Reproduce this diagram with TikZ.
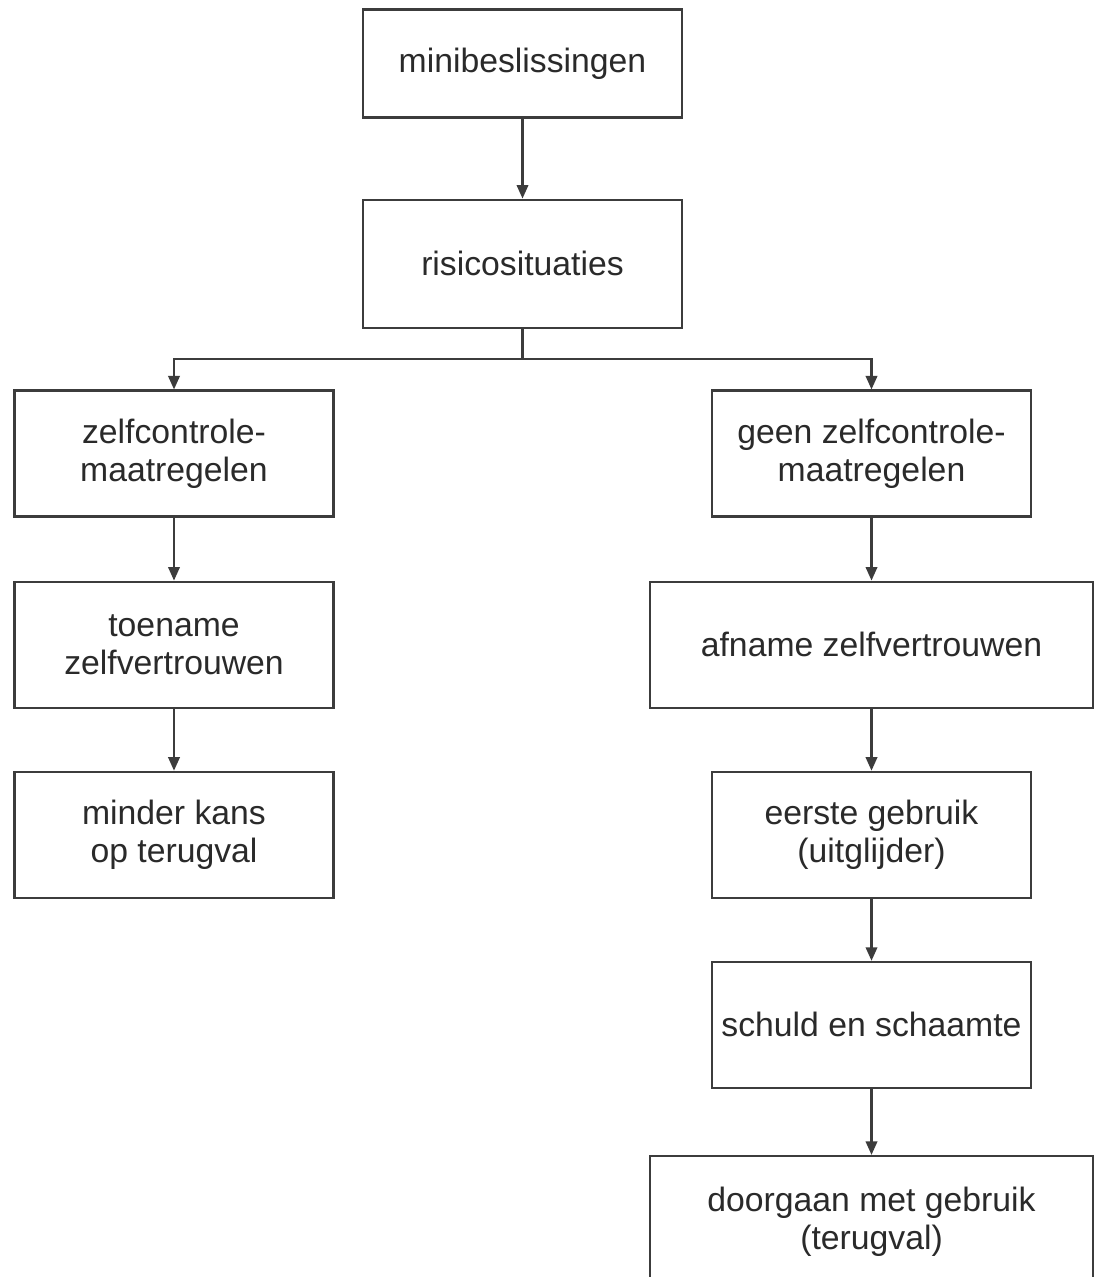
\documentclass[tikz,border=0pt]{standalone}
\usepackage{fontspec}
\setmainfont{Liberation Sans}
\usetikzlibrary{arrows.meta,positioning}
\definecolor{LineGray}{HTML}{3C3C3C}
\definecolor{TextGray}{HTML}{2A2A2A}

\begin{document}
\begin{tikzpicture}[node distance=6.2mm,>={Triangle[width=1.15mm,length=1.35mm]},
 box/.style={draw=LineGray,line width=.6pt,fill=white,inner sep=0pt,minimum width=31.9mm,minimum height=12.6mm,align=center,text=TextGray,font=\fontsize{9.6}{10.9}\selectfont},
 widebox/.style={box,minimum width=44.3mm}]
\useasboundingbox[fill=white] (0,-12.77) rectangle (10.98,0);
\node[box,minimum height=10.8mm] (mini) at (5.225,-.635) {minibeslissingen};
\node[box,below=8.0mm of mini,minimum height=12.8mm] (risico) {risicosituaties};
% linker tak
\node[box] (zc) at (1.74,-4.535) {zelfcontrole-\\maatregelen};
\node[box,below=6.3mm of zc] (toe) {toename\\zelfvertrouwen};
\node[box,below=of toe] (minder) {minder kans\\op terugval};
% rechter tak
\node[box] (geen) at (8.715,-4.535) {geen zelfcontrole-\\maatregelen};
\node[widebox,below=6.3mm of geen] (af) {afname zelfvertrouwen};
\node[box,below=of af] (eerste) {eerste gebruik\\(uitglijder)};
\node[box,below=of eerste] (schuld) {schuld en schaamte};
\node[widebox,below=6.3mm of schuld,minimum height=13.2mm,yshift=-.3mm] (door) {doorgaan met gebruik\\(terugval)};
\begin{scope}[draw=LineGray,line width=.6pt]
\draw[->] (mini)--(risico);
\draw[->] (risico.south)--++(0,-.3) coordinate (split) -| (zc.north);
\draw[->] (split) -| (geen.north);
\draw[->] (zc)--(toe);
\draw[->] (toe)--(minder);
\draw[->] (geen)--(af);
\draw[->] (af)--(eerste);
\draw[->] (eerste)--(schuld);
\draw[->] (schuld)--(door);
\end{scope}
\end{tikzpicture}
\end{document}
